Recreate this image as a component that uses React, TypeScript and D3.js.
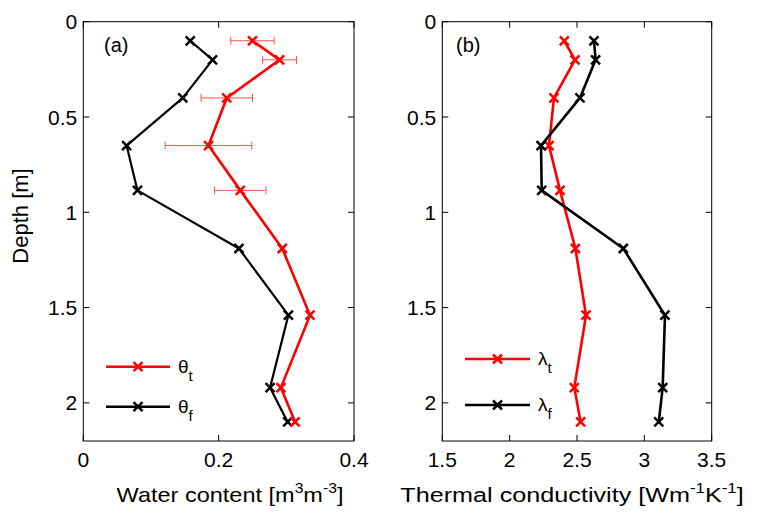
import React from "react";
import * as d3 from "d3";

const depth = [0.1, 0.2, 0.4, 0.65, 0.885, 1.19, 1.54, 1.92, 2.1];
const thetaT = [0.25, 0.29, 0.212, 0.185, 0.232, 0.294, 0.335, 0.292, 0.313];
const thetaTErr = [0.032, 0.025, 0.038, 0.064, 0.038, 0, 0, 0, 0];
const thetaF = [0.158, 0.191, 0.147, 0.064, 0.08, 0.23, 0.303, 0.276, 0.302];
const lambdaT = [2.406, 2.485, 2.329, 2.292, 2.374, 2.488, 2.567, 2.48, 2.527];
const lambdaF = [2.626, 2.638, 2.522, 2.233, 2.238, 2.844, 3.153, 3.136, 3.107];

const depthTicks = [0, 0.5, 1, 1.5, 2];
const depthTickLabels = ["0", "0.5", "1", "1.5", "2"];
const waterTicks = [0, 0.2, 0.4];
const waterTickLabels = ["0", "0.2", "0.4"];
const condTicks = [1.5, 2, 2.5, 3, 3.5];
const condTickLabels = ["1.5", "2", "2.5", "3", "3.5"];

const FONT = "'Liberation Sans', Arial, sans-serif";
const RED = "#ff0000";
const BLACK = "#000000";

const top = 21.7;
const bottom = 441;
const y = d3.scaleLinear().domain([0, 2.2]).range([top, bottom]);
const xA = d3.scaleLinear().domain([0, 0.4]).range([83.3, 354]);
const xB = d3.scaleLinear().domain([1.5, 3.5]).range([442.3, 711.7]);

function Cross({ cx, cy, color }: { cx: number; cy: number; color: string }) {
  const s = 4.5;
  return (
    <g stroke={color} strokeWidth={2.5}>
      <line x1={cx - s} y1={cy - s} x2={cx + s} y2={cy + s} />
      <line x1={cx - s} y1={cy + s} x2={cx + s} y2={cy - s} />
    </g>
  );
}

function Series({ xs, x, color, width }: { xs: number[]; x: d3.ScaleLinear<number, number>; color: string; width: number }) {
  const line = d3
    .line<number>()
    .x((v) => x(v))
    .y((_, i) => y(depth[i]));
  return (
    <g>
      <path d={line(xs) || ""} fill="none" stroke={color} strokeWidth={width} strokeLinejoin="round" />
      {xs.map((v, i) => (
        <Cross key={i} cx={x(v)} cy={y(depth[i])} color={color} />
      ))}
    </g>
  );
}

function Frame({
  x,
  ticks,
  labels,
}: {
  x: d3.ScaleLinear<number, number>;
  ticks: number[];
  labels: string[];
}) {
  const [x0, x1] = x.range();
  const tl = 6;
  return (
    <g>
      <rect x={x0} y={top} width={x1 - x0} height={bottom - top} fill="none" stroke="#000" strokeWidth={1} />
      {ticks.map((t, i) => (
        <g key={"xt" + i}>
          <line x1={x(t)} x2={x(t)} y1={bottom} y2={bottom - tl} stroke="#000" />
          <line x1={x(t)} x2={x(t)} y1={top} y2={top + tl} stroke="#000" />
          <text x={x(t)} y={467} textAnchor="middle" fontSize={21} fontFamily={FONT}>
            {labels[i]}
          </text>
        </g>
      ))}
      {depthTicks.map((t, i) => (
        <g key={"yt" + i}>
          <line x1={x0} x2={x0 + tl} y1={y(t)} y2={y(t)} stroke="#000" />
          <line x1={x1} x2={x1 - tl} y1={y(t)} y2={y(t)} stroke="#000" />
          <text x={x0 - 6} y={y(t)} dy="0.36em" textAnchor="end" fontSize={21} fontFamily={FONT}>
            {depthTickLabels[i]}
          </text>
        </g>
      ))}
    </g>
  );
}

function LegendItem({
  x0,
  x1,
  yy,
  color,
  sym,
  sub,
}: {
  x0: number;
  x1: number;
  yy: number;
  color: string;
  sym: string;
  sub: string;
}) {
  return (
    <g>
      <line x1={x0} x2={x1} y1={yy} y2={yy} stroke={color} strokeWidth={2.5} />
      <Cross cx={(x0 + x1) / 2} cy={yy} color={color} />
      <text x={x1 + 8} y={yy + 6} fontSize={19} fontFamily={FONT}>
        {sym}
        <tspan fontSize={15} dy={8}>
          {sub}
        </tspan>
      </text>
    </g>
  );
}

export default function App() {
  return (
    <svg
      width={759}
      height={513}
      style={{ position: "absolute", left: 0, top: 0, display: "block", background: "#fff" }}
    >
      <rect x={0} y={0} width={759} height={513} fill="#fff" />
      {/* Panel A */}
      <Frame x={xA} ticks={waterTicks} labels={waterTickLabels} />
      <g>
        {thetaT.map((v, i) =>
          thetaTErr[i] > 0 ? (
            <g key={"e" + i} stroke="#ff5050" strokeWidth={1}>
              <line x1={xA(v - thetaTErr[i])} x2={xA(v + thetaTErr[i])} y1={y(depth[i])} y2={y(depth[i])} />
              <line x1={xA(v - thetaTErr[i])} x2={xA(v - thetaTErr[i])} y1={y(depth[i]) - 4} y2={y(depth[i]) + 4} />
              <line x1={xA(v + thetaTErr[i])} x2={xA(v + thetaTErr[i])} y1={y(depth[i]) - 4} y2={y(depth[i]) + 4} />
            </g>
          ) : null
        )}
      </g>
      <Series xs={thetaF} x={xA} color={BLACK} width={2.2} />
      <Series xs={thetaT} x={xA} color={RED} width={2.6} />
      <text x={104} y={52} fontSize={20} fontFamily={FONT}>
        (a)
      </text>
      <LegendItem x0={106} x1={170} yy={366.7} color={RED} sym="θ" sub="t" />
      <LegendItem x0={106} x1={170} yy={406.7} color={BLACK} sym="θ" sub="f" />

      {/* Panel B */}
      <Frame x={xB} ticks={condTicks} labels={condTickLabels} />
      <Series xs={lambdaT} x={xB} color={RED} width={2.6} />
      <Series xs={lambdaF} x={xB} color={BLACK} width={2.6} />
      <text x={456} y={52} fontSize={20} fontFamily={FONT}>
        (b)
      </text>
      <LegendItem x0={465} x1={530} yy={359} color={RED} sym="λ" sub="t" />
      <LegendItem x0={465} x1={530} yy={405} color={BLACK} sym="λ" sub="f" />

      {/* Axis labels */}
      <text
        transform={`translate(28,216) rotate(-90)`}
        textAnchor="middle"
        fontSize={22}
        fontFamily={FONT}
      >
        Depth [m]
      </text>
      <g transform="translate(230,501.5) scale(1.12,1)">
        <text x={0} y={0} textAnchor="middle" fontSize={21} fontFamily={FONT}>
          Water content [m
          <tspan fontSize={14} dy={-9}>3</tspan>
          <tspan dy={9}>m</tspan>
          <tspan fontSize={14} dy={-9}>-3</tspan>
          <tspan dy={9}>]</tspan>
        </text>
      </g>
      <g transform="translate(572,501.5) scale(1.2,1)">
        <text x={0} y={0} textAnchor="middle" fontSize={21} fontFamily={FONT}>
          Thermal conductivity [Wm
          <tspan fontSize={14} dy={-9}>-1</tspan>
          <tspan dy={9}>K</tspan>
          <tspan fontSize={14} dy={-9}>-1</tspan>
          <tspan dy={9}>]</tspan>
        </text>
      </g>
    </svg>
  );
}
